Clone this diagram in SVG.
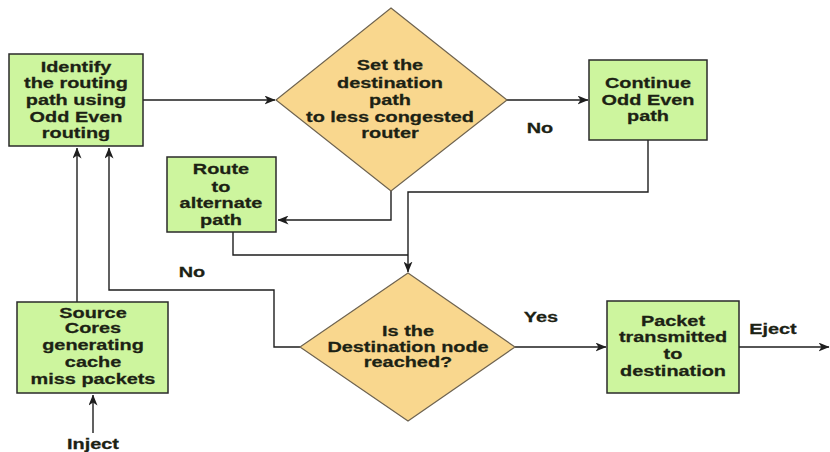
<svg xmlns="http://www.w3.org/2000/svg" width="830" height="452" viewBox="0 0 830 452">
<defs>
<style>
.box{fill:#cdf59e;stroke:#2a2a2a;stroke-width:1.5}
.dia{fill:#f9d78e;stroke:#6e6350;stroke-width:1.2}
.t{font-family:"Liberation Sans",Arial,sans-serif;font-weight:bold;font-size:14px;fill:#1c2214;stroke:#1c2214;stroke-width:0.25;text-anchor:middle}
.c{fill:none;stroke:#1e1e1e;stroke-width:1.4}
</style>
<marker id="ah" viewBox="0 0 11 9" refX="10.5" refY="4.5" markerWidth="11" markerHeight="9" markerUnits="userSpaceOnUse" orient="auto">
<path d="M0,0 L11,4.5 L0,9 L3,4.5 z" fill="#1e1e1e"/>
</marker>
</defs>
<rect width="830" height="452" fill="#ffffff"/>
<g id="connectors">
<path class="c" d="M143,100 H275" marker-end="url(#ah)"/>
<path class="c" d="M507,100 H588" marker-end="url(#ah)"/>
<path class="c" d="M391,191 V220 H278" marker-end="url(#ah)"/>
<path class="c" d="M648,140 V192 H408 V272" marker-end="url(#ah)"/>
<path class="c" d="M233,232 V255 H408"/>
<path class="c" d="M77,302 V148" marker-end="url(#ah)"/>
<path class="c" d="M300,347 H274 V290 H109 V148" marker-end="url(#ah)"/>
<path class="c" d="M515,347 H606" marker-end="url(#ah)"/>
<path class="c" d="M739,347 H829" marker-end="url(#ah)"/>
<path class="c" d="M93,433 V395" marker-end="url(#ah)"/>
</g>
<g id="identify">
<rect class="box" x="9" y="54" width="134" height="92"/>
<g transform="translate(76,0) scale(1.42,1)">
<text class="t" x="0" y="72">Identify</text>
<text class="t" x="0" y="88">the routing</text>
<text class="t" x="0" y="105">path using</text>
<text class="t" x="0" y="122">Odd Even</text>
<text class="t" x="0" y="138">routing</text>
</g>
</g>
<g id="set-destination">
<polygon class="dia" points="391,8 507,100 391,191 276,100"/>
<g transform="translate(390,0) scale(1.42,1)">
<text class="t" x="0" y="70">Set the</text>
<text class="t" x="0" y="88">destination</text>
<text class="t" x="0" y="105">path</text>
<text class="t" x="0" y="122">to less congested</text>
<text class="t" x="0" y="138">router</text>
</g>
</g>
<g id="continue">
<rect class="box" x="589" y="60" width="118" height="80"/>
<g transform="translate(648,0) scale(1.42,1)">
<text class="t" x="0" y="88">Continue</text>
<text class="t" x="0" y="105">Odd Even</text>
<text class="t" x="0" y="121">path</text>
</g>
</g>
<g id="route-alternate">
<rect class="box" x="167" y="157" width="109" height="75"/>
<g transform="translate(221,0) scale(1.42,1)">
<text class="t" x="0" y="174">Route</text>
<text class="t" x="0" y="192">to</text>
<text class="t" x="0" y="208">alternate</text>
<text class="t" x="0" y="225">path</text>
</g>
</g>
<g id="source-cores">
<rect class="box" x="17" y="302" width="151" height="91"/>
<g transform="translate(93,0) scale(1.42,1)">
<text class="t" x="0" y="318">Source</text>
<text class="t" x="0" y="333">Cores</text>
<text class="t" x="0" y="350">generating</text>
<text class="t" x="0" y="367">cache</text>
<text class="t" x="0" y="384">miss packets</text>
</g>
</g>
<g id="destination-reached">
<polygon class="dia" points="408,273 515,347 408,421 300,347"/>
<g transform="translate(408,0) scale(1.42,1)">
<text class="t" x="0" y="336">Is the</text>
<text class="t" x="0" y="352">Destination node</text>
<text class="t" x="0" y="367">reached?</text>
</g>
</g>
<g id="packet-transmitted">
<rect class="box" x="607" y="301" width="132" height="92"/>
<g transform="translate(673,0) scale(1.42,1)">
<text class="t" x="0" y="326">Packet</text>
<text class="t" x="0" y="342">transmitted</text>
<text class="t" x="0" y="359">to</text>
<text class="t" x="0" y="376">destination</text>
</g>
</g>
<g id="labels">
<g transform="translate(540,0) scale(1.42,1)"><text class="t" x="0" y="133">No</text></g>
<g transform="translate(192,0) scale(1.42,1)"><text class="t" x="0" y="277">No</text></g>
<g transform="translate(541,0) scale(1.42,1)"><text class="t" x="0" y="322">Yes</text></g>
<g transform="translate(773,0) scale(1.42,1)"><text class="t" x="0" y="334">Eject</text></g>
<g transform="translate(93,0) scale(1.42,1)"><text class="t" x="0" y="449">Inject</text></g>
</g>
</svg>
